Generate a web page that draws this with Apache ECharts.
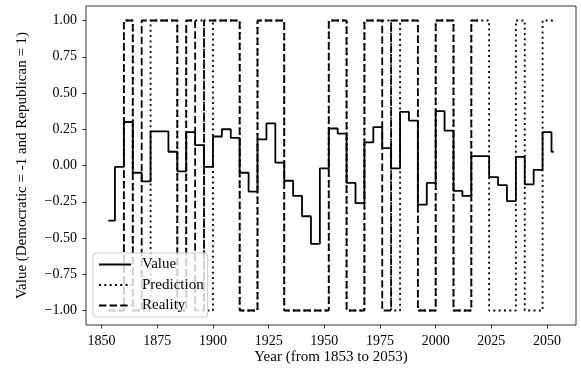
<!DOCTYPE html>
<html>
<head>
    <meta charset="utf-8">
    <title>Value / Prediction / Reality</title>
    <style type="text/css">
        html, body { margin: 0; padding: 0; background: #fff; }
        #chart { width: 581px; height: 370px; }
    </style>
</head>
<body>
<div id="chart"></div>
<script src="https://cdn.jsdelivr.net/npm/echarts@6/dist/echarts.min.js"></script>
<script>
    // term boundaries: first year, then every election year up to 2052
    var breaks = [1853];
    for (var y = 1856; y <= 2052; y += 4) breaks.push(y);
    var lastYear = 2053;

    // value per term
    var value = [-0.38, -0.01, 0.30, -0.05, -0.11, 0.235, 0.235, 0.095, -0.04, 0.23,
        0.14, -0.01, 0.20, 0.25, 0.19, -0.05, -0.18, 0.18, 0.29, 0.02,
        -0.105, -0.21, -0.35, -0.54, -0.02, 0.255, 0.22, -0.12, -0.26, 0.16,
        0.265, 0.12, -0.02, 0.37, 0.31, -0.27, -0.12, 0.375, 0.24, -0.175,
        -0.21, 0.065, 0.065, -0.08, -0.135, -0.245, 0.06, -0.13, -0.03, 0.23,
        0.095];

    var prediction = [-1, -1, 1, -1, -1, 1, 1, 1, -1, 1,
        1, -1, 1, 1, 1, -1, -1, 1, 1, 1,
        -1, -1, -1, -1, -1, 1, 1, -1, -1, 1,
        1, 1, -1, 1, 1, -1, -1, 1, 1, -1,
        -1, 1, 1, -1, -1, -1, 1, -1, -1, 1,
        1];

    // known results stop at 2020
    var reality = [-1, -1, 1, -1, 1, 1, 1, 1, -1, 1,
        -1, 1, 1, 1, 1, -1, -1, 1, 1, 1,
        -1, -1, -1, -1, -1, 1, 1, -1, -1, 1,
        1, -1, 1, 1, 1, -1, -1, 1, 1, -1,
        -1, 1];

    var xTicks = [1850, 1875, 1900, 1925, 1950, 1975, 2000, 2025, 2050];
    var yTicks = [-1, -0.75, -0.5, -0.25, 0, 0.25, 0.5, 0.75, 1];

    function stepData(vals) {
        var pts = [];
        for (var i = 0; i < vals.length; i++) pts.push([breaks[i], vals[i]]);
        var end = vals.length < breaks.length ? breaks[vals.length] : lastYear;
        pts.push([end, vals[vals.length - 1]]);
        return pts;
    }

    var fmt = function (v) {
        return (v < 0 ? '\u2212' : '') + Math.abs(v).toFixed(2);
    };

    var font = 'Liberation Serif, DejaVu Serif, serif';
    var myChart = echarts.init(document.getElementById('chart'));

    var option = {
        animation: false,
        textStyle: {fontFamily: font, color: '#000'},
        grid: {
            left: 86, right: 5, top: 6, bottom: 45,
            outerBoundsMode: 'none',
            show: true, borderColor: '#000', borderWidth: 0.8
        },
        legend: {
            orient: 'vertical',
            left: 93, top: 253,
            padding: [4, 4, 4, 5],
            itemWidth: 32, itemHeight: 14, itemGap: 5.5,
            backgroundColor: 'rgba(255,255,255,0.8)',
            borderColor: '#cccccc', borderWidth: 1, borderRadius: 3,
            itemStyle: {opacity: 0},
            textStyle: {fontFamily: font, fontSize: 15, color: '#000', padding: [0, 0, 0, 6]},
            data: ['Value', 'Prediction', 'Reality']
        },
        xAxis: {
            type: 'value',
            min: 1843, max: 2063,
            name: 'Year (from 1853 to 2053)',
            nameLocation: 'middle', nameGap: 25, nameMoveOverlap: false,
            nameTextStyle: {fontFamily: font, fontSize: 15, color: '#000'},
            axisLine: {show: false, onZero: false},
            axisTick: {show: true, length: 3.5, customValues: xTicks, lineStyle: {color: '#000', width: 0.8}},
            axisLabel: {customValues: xTicks, margin: 9, formatter: function (v) { return String(v); },
                fontFamily: font, fontSize: 14, color: '#000'},
            splitLine: {show: false}
        },
        yAxis: {
            type: 'value',
            min: -1.1, max: 1.1,
            name: 'Value (Democratic = -1 and Republican = 1)',
            nameLocation: 'middle', nameGap: 56, nameRotate: 90, nameMoveOverlap: false,
            nameTextStyle: {fontFamily: font, fontSize: 15, color: '#000'},
            axisLine: {show: false, onZero: false},
            axisTick: {show: true, length: 3.5, customValues: yTicks, lineStyle: {color: '#000', width: 0.8}},
            axisLabel: {customValues: yTicks, margin: 9, formatter: fmt, fontFamily: font, fontSize: 14, color: '#000'},
            splitLine: {show: false}
        },
        series: [
            {
                name: 'Value', type: 'line', step: 'end', symbol: 'none',
                data: stepData(value),
                lineStyle: {color: '#000', width: 1.8, type: 'solid'},
                itemStyle: {color: '#000'}
            },
            {
                name: 'Prediction', type: 'line', step: 'end', symbol: 'none',
                data: stepData(prediction),
                lineStyle: {color: '#000', width: 1.8, type: [2, 3.3], cap: 'butt'},
                itemStyle: {color: '#000'}
            },
            {
                name: 'Reality', type: 'line', step: 'end', symbol: 'none',
                data: stepData(reality),
                lineStyle: {color: '#000', width: 1.8, type: [7.4, 3.2], cap: 'butt'},
                itemStyle: {color: '#000'}
            }
        ]
    };
    myChart.setOption(option);
</script>
</body>
</html>
